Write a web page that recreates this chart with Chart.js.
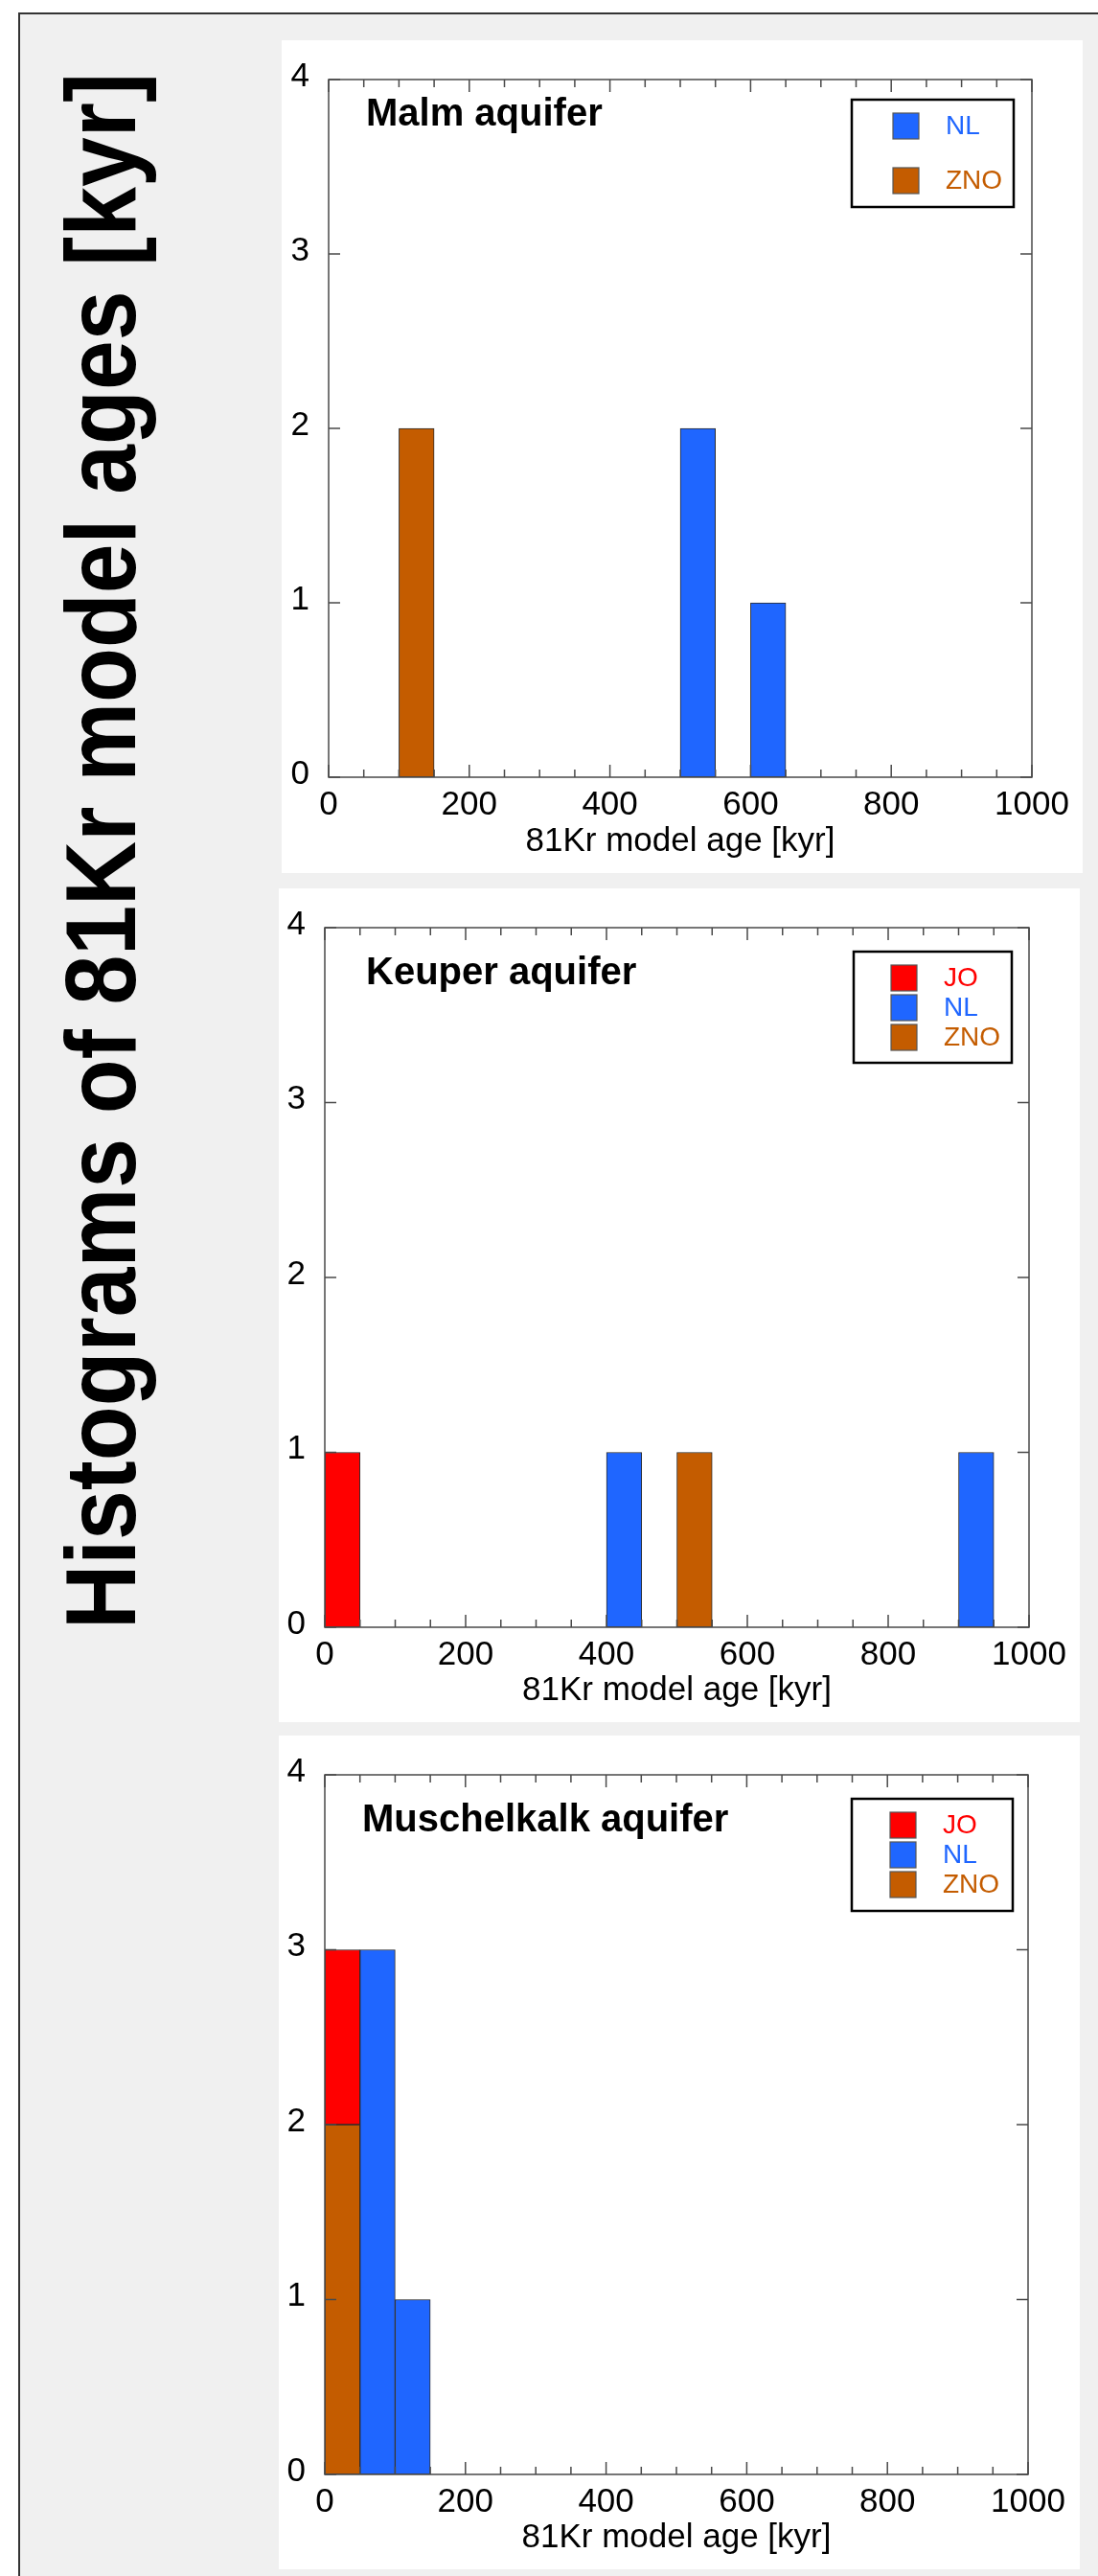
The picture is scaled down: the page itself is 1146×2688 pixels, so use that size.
<!DOCTYPE html>
<html>
<head>
<meta charset="utf-8">
<title>Histograms of 81Kr model ages</title>
<script src="https://cdn.jsdelivr.net/npm/chart.js@4.4.1/dist/chart.umd.min.js"></script>
<style>
  html, body { margin: 0; padding: 0; background: #fff; }
  body { width: 1146px; height: 2688px; overflow: hidden; position: relative; }
  #frame { position: absolute; left: 19px; top: 13px; width: 1200px; height: 2800px;
           border-top: 2px solid #333; border-left: 2px solid #333; background: #f0f0f0; }
  #bigTitle { position: absolute; left: 0; top: 0; white-space: nowrap; color: #000;
              font: bold 104px "Liberation Sans", Arial, sans-serif; line-height: 104px;
              transform-origin: 0 0; }
  .panel { position: absolute; background: #fff; }
  .panel canvas { display: block; }
</style>
</head>
<body>
<div id="frame"></div>
<div id="bigTitle">Histograms of 81Kr model ages [kyr]</div>

<div class="panel" style="left:294px;top:42px;width:836px;height:869px">
  <canvas id="malm-chart" width="836" height="869"></canvas>
</div>
<div class="panel" style="left:291px;top:927px;width:836px;height:870px">
  <canvas id="keuper-chart" width="836" height="870"></canvas>
</div>
<div class="panel" style="left:291px;top:1811px;width:836px;height:870px">
  <canvas id="muschelkalk-chart" width="836" height="870"></canvas>
</div>

<script>
// 50 kyr bins, left edge of each bin
const binStarts = [0, 50, 100, 150, 200, 250, 300, 350, 400, 450,
                   500, 550, 600, 650, 700, 750, 800, 850, 900, 950];
const xTicks = [0, 200, 400, 600, 800, 1000];
const yTicks = [0, 1, 2, 3, 4];

// counts per bin, Malm aquifer
const malmNL  = [0, 0, 0, 0, 0, 0, 0, 0, 0, 0, 2, 0, 1, 0, 0, 0, 0, 0, 0, 0];
const malmZNO = [0, 0, 2, 0, 0, 0, 0, 0, 0, 0, 0, 0, 0, 0, 0, 0, 0, 0, 0, 0];

// Keuper aquifer
const keuperJO  = [1, 0, 0, 0, 0, 0, 0, 0, 0, 0, 0, 0, 0, 0, 0, 0, 0, 0, 0, 0];
const keuperNL  = [0, 0, 0, 0, 0, 0, 0, 0, 1, 0, 0, 0, 0, 0, 0, 0, 0, 0, 1, 0];
const keuperZNO = [0, 0, 0, 0, 0, 0, 0, 0, 0, 0, 1, 0, 0, 0, 0, 0, 0, 0, 0, 0];

// Muschelkalk aquifer
const muschJO  = [1, 0, 0, 0, 0, 0, 0, 0, 0, 0, 0, 0, 0, 0, 0, 0, 0, 0, 0, 0];
const muschNL  = [0, 3, 1, 0, 0, 0, 0, 0, 0, 0, 0, 0, 0, 0, 0, 0, 0, 0, 0, 0];
const muschZNO = [2, 0, 0, 0, 0, 0, 0, 0, 0, 0, 0, 0, 0, 0, 0, 0, 0, 0, 0, 0];

const groupColors = { JO: "#ff0000", NL: "#1f66ff", ZNO: "#c45c00" };
// ZNO sits at the bottom of a stack, JO on top of it
const stackOrder = { ZNO: 0, NL: 1, JO: 2 };

const FONT = "'Liberation Sans', Arial, Helvetica, sans-serif";
Chart.defaults.font.family = FONT;
Chart.defaults.color = "#000";

/****************** big rotated title on the left *************************/
const bigTitle = document.getElementById("bigTitle");
const titleWidth = bigTitle.getBoundingClientRect().width;
const titleBottom = 1700, titleTop = 76;
const squeeze = (titleBottom - titleTop) / titleWidth;
bigTitle.style.transform =
  `translate(53px, ${titleBottom}px) rotate(-90deg) scaleX(${squeeze})`;

/****************** frame, inward ticks, label and legend *************************/
const panelDecor = {
  id: "panelDecor",
  afterDraw(chart, args, opts) {
    const ctx = chart.ctx;
    const area = chart.chartArea;
    const xs = chart.scales.xAge;
    const ys = chart.scales.y;

    ctx.save();
    ctx.strokeStyle = "#4a4a4a";
    ctx.lineWidth = 1.5;
    ctx.beginPath();
    for (let v = xs.min; v <= xs.max; v += 50) {
      let px = xs.getPixelForValue(v);
      let len = v % 200 === 0 ? 13 : 8;
      ctx.moveTo(px, area.bottom);
      ctx.lineTo(px, area.bottom - len);
      ctx.moveTo(px, area.top);
      ctx.lineTo(px, area.top + len);
    }
    yTicks.forEach(v => {
      let py = ys.getPixelForValue(v);
      ctx.moveTo(area.left, py);
      ctx.lineTo(area.left + 12, py);
      ctx.moveTo(area.right, py);
      ctx.lineTo(area.right - 12, py);
    });
    ctx.stroke();
    ctx.strokeRect(area.left, area.top, area.right - area.left, area.bottom - area.top);

    // aquifer name
    ctx.fillStyle = "#000";
    ctx.font = "bold 40px " + FONT;
    ctx.textAlign = "left";
    ctx.textBaseline = "middle";
    ctx.fillText(opts.name, area.left + opts.nameX, area.top + opts.nameY);

    // legend box
    let lg = opts.legend;
    let bx = area.right - lg.fromRight;
    let by = area.top + lg.top;
    ctx.fillStyle = "#fff";
    ctx.fillRect(bx, by, lg.w, lg.h);
    ctx.strokeStyle = "#000";
    ctx.lineWidth = 2.5;
    ctx.strokeRect(bx, by, lg.w, lg.h);

    ctx.font = "28px " + FONT;
    chart.data.datasets.forEach((ds, i) => {
      let sy = by + lg.padTop + i * lg.step;
      ctx.fillStyle = ds.backgroundColor;
      ctx.fillRect(bx + lg.swatchX, sy, 27, 27);
      ctx.strokeStyle = "#555";
      ctx.lineWidth = 1.2;
      ctx.strokeRect(bx + lg.swatchX, sy, 27, 27);
      ctx.fillStyle = ds.backgroundColor;
      ctx.fillText(ds.label, bx + lg.textX, sy + 14);
    });
    ctx.restore();
  }
};

function groupDataset(name, counts) {
  return {
    label: name,
    data: counts.map(c => (c > 0 ? c : null)),
    backgroundColor: groupColors[name],
    borderColor: "#2b2b2b",
    borderWidth: 1,
    borderSkipped: false,
    barPercentage: 1,
    categoryPercentage: 1,
    order: stackOrder[name]
  };
}

function displayHistogram(canvasId, datasets, box, decor) {
  return new Chart(document.getElementById(canvasId), {
    type: "bar",
    data: {
      labels: binStarts.map(b => b + "-" + (b + 50)),
      datasets: datasets
    },
    options: {
      responsive: false,
      animation: false,
      events: [],
      layout: { padding: { top: box.top, right: box.right, bottom: 0, left: 0 } },
      plugins: {
        legend: { display: false },
        tooltip: { enabled: false },
        panelDecor: decor
      },
      scales: {
        x: { type: "category", display: false, stacked: true, offset: true },
        xAge: {
          type: "linear",
          position: "bottom",
          min: 0,
          max: 1000,
          offset: false,
          afterBuildTicks: scale => { scale.ticks = xTicks.map(v => ({ value: v })); },
          afterFit: scale => { scale.height = box.bottom; },
          grid: { display: false, drawTicks: false, offset: false },
          border: { display: false },
          ticks: {
            font: { size: 35 }, padding: 8, color: "#000", maxRotation: 0,
            callback: v => String(v)
          },
          title: {
            display: true,
            text: "81Kr model age [kyr]",
            font: { size: 35 },
            color: "#000",
            padding: { top: 0, bottom: 12 }
          }
        },
        y: {
          type: "linear",
          stacked: true,
          min: 0,
          max: 4,
          afterBuildTicks: scale => { scale.ticks = yTicks.map(v => ({ value: v })); },
          afterFit: scale => { scale.width = box.left; },
          grid: { display: false, drawTicks: false },
          border: { display: false },
          ticks: { font: { size: 35 }, padding: 20, color: "#000", labelOffset: -3 }
        }
      }
    },
    plugins: [panelDecor]
  });
}

displayHistogram(
  "malm-chart",
  [groupDataset("NL", malmNL), groupDataset("ZNO", malmZNO)],
  { left: 49, top: 34, right: 53, bottom: 100 },
  {
    name: "Malm aquifer", nameX: 39, nameY: 37,
    legend: { fromRight: 188, top: 21, w: 169, h: 112, padTop: 14, step: 57, swatchX: 43, textX: 98 }
  }
);

displayHistogram(
  "keuper-chart",
  [groupDataset("JO", keuperJO), groupDataset("NL", keuperNL), groupDataset("ZNO", keuperZNO)],
  { left: 48, top: 36, right: 53, bottom: 99 },
  {
    name: "Keuper aquifer", nameX: 43, nameY: 48,
    legend: { fromRight: 183, top: 25, w: 165, h: 116, padTop: 14, step: 31, swatchX: 39, textX: 94 }
  }
);

displayHistogram(
  "muschelkalk-chart",
  [groupDataset("JO", muschJO), groupDataset("NL", muschNL), groupDataset("ZNO", muschZNO)],
  { left: 48, top: 35, right: 54, bottom: 99 },
  {
    name: "Muschelkalk aquifer", nameX: 39, nameY: 48,
    legend: { fromRight: 184, top: 25, w: 168, h: 117, padTop: 14, step: 31, swatchX: 40, textX: 95 }
  }
);
</script>
</body>
</html>
